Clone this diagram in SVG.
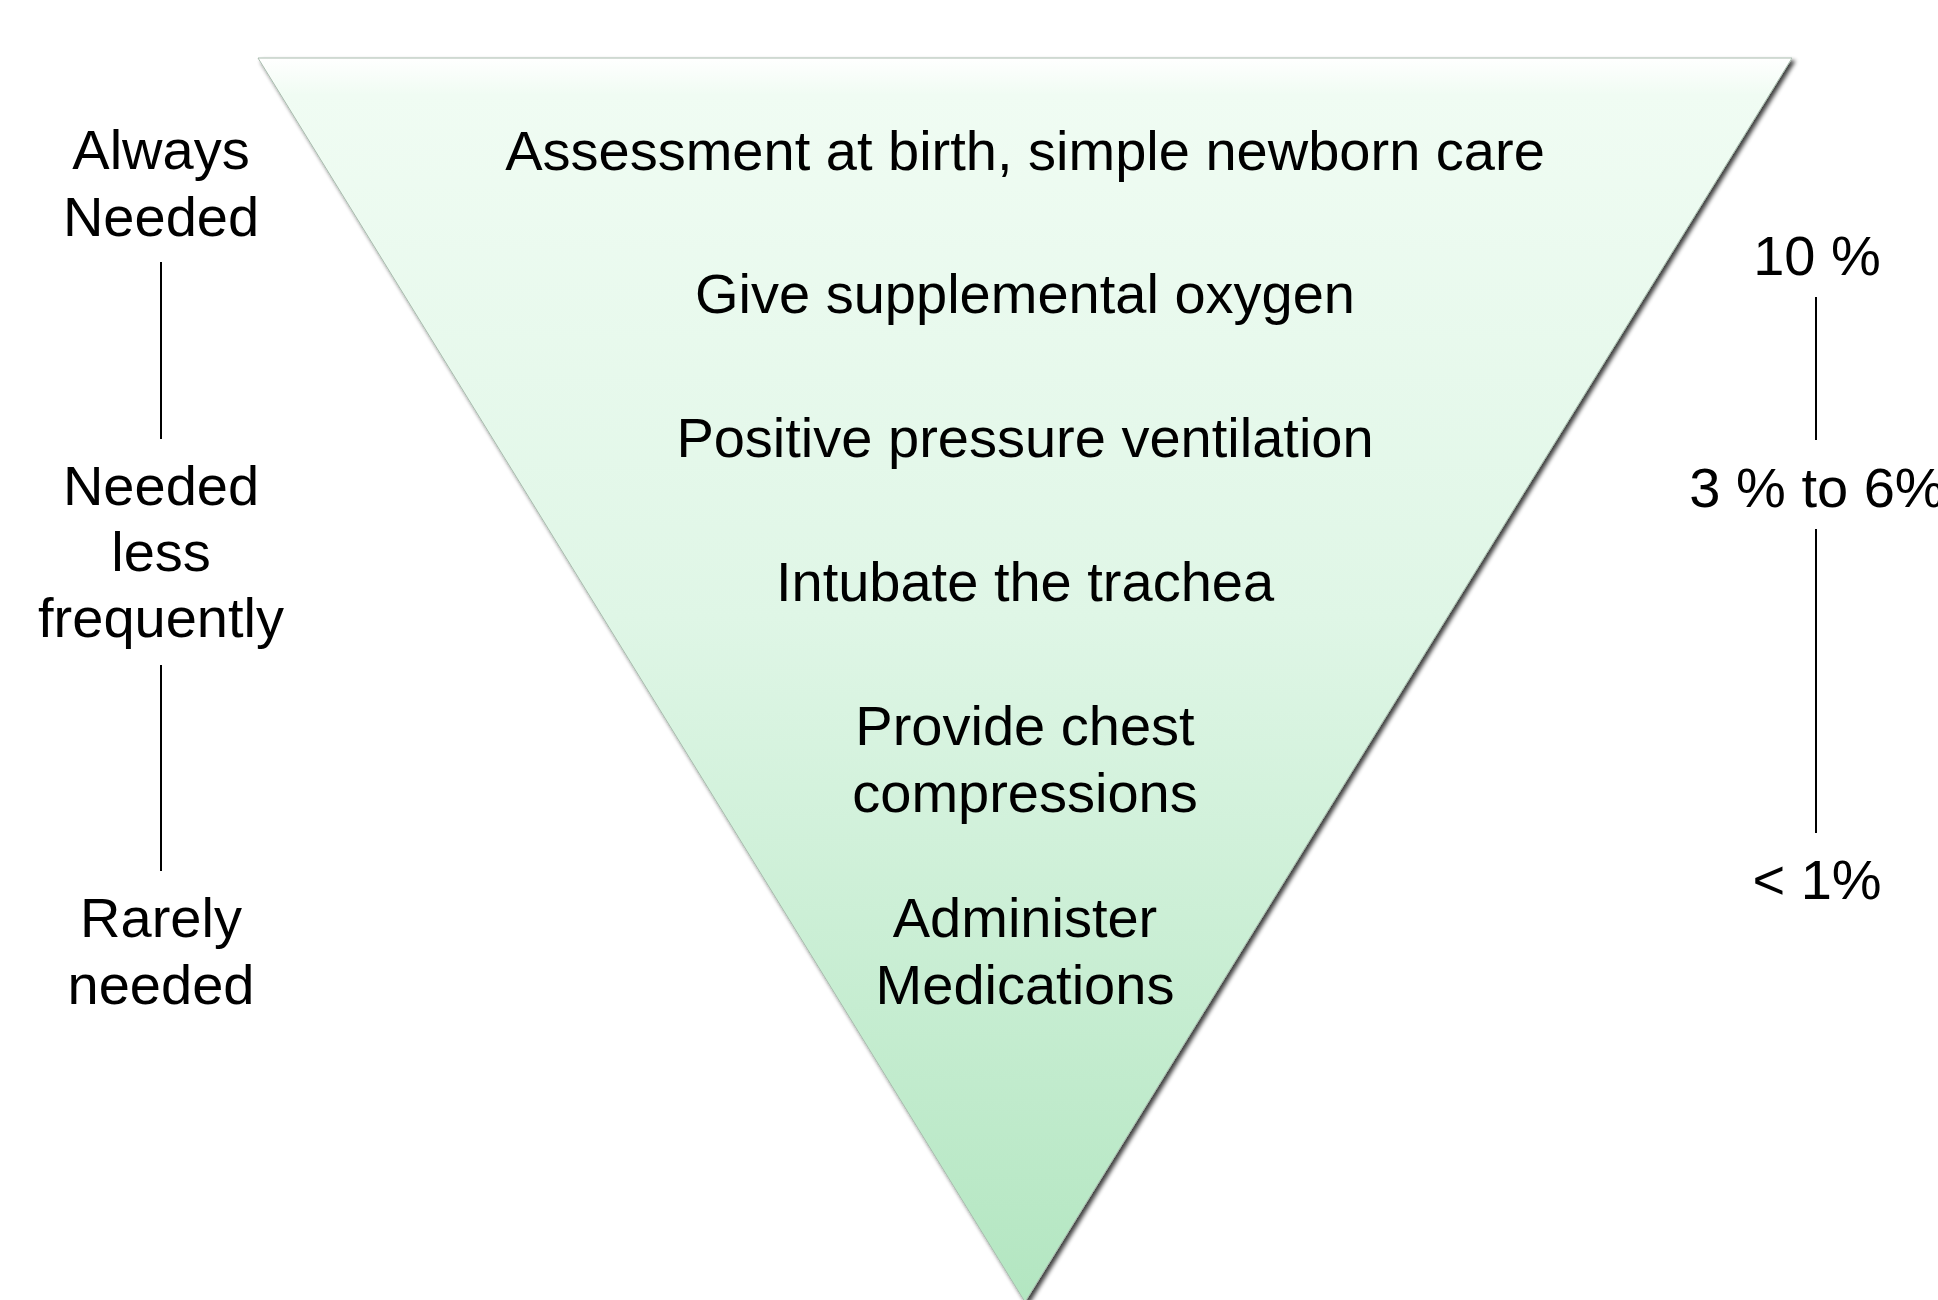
<svg xmlns="http://www.w3.org/2000/svg" width="1938" height="1300" viewBox="0 0 1938 1300">
  <defs>
    <linearGradient id="fillGrad" x1="0" y1="58" x2="0" y2="1300" gradientUnits="userSpaceOnUse">
      <stop offset="0" stop-color="#ffffff"/>
      <stop offset="0.03" stop-color="#f0fcf3"/>
      <stop offset="0.45" stop-color="#dff6e6"/>
      <stop offset="1" stop-color="#b3e6c1"/>
    </linearGradient>
    <filter id="shadow" x="-5%" y="-5%" width="110%" height="110%">
      <feGaussianBlur in="SourceAlpha" stdDeviation="2.2"/>
      <feOffset dx="3" dy="3" result="b"/>
      <feComponentTransfer><feFuncA type="linear" slope="0.75"/></feComponentTransfer>
      <feMerge><feMergeNode/><feMergeNode in="SourceGraphic"/></feMerge>
    </filter>
    <style>
      .t { font-family: "Liberation Sans", Arial, sans-serif; font-size: 56px; fill: #000; text-anchor: middle; }
      .conn { stroke: #000; stroke-width: 2; fill: none; }
    </style>
  </defs>
  <rect width="1938" height="1300" fill="#ffffff"/>

  <g id="triangle">
    <polygon points="258,58 1792,58 1025,1302" fill="url(#fillGrad)" filter="url(#shadow)" stroke="#a9bcae" stroke-width="1"/>
  </g>

  <g id="step1"><text class="t" x="1025" y="170">Assessment at birth, simple newborn care</text></g>
  <g id="step2"><text class="t" x="1025" y="313">Give supplemental oxygen</text></g>
  <g id="step3"><text class="t" x="1025" y="457">Positive pressure ventilation</text></g>
  <g id="step4"><text class="t" x="1025" y="601">Intubate the trachea</text></g>
  <g id="step5"><text class="t" x="1025" y="745">Provide chest</text><text class="t" x="1025" y="812">compressions</text></g>
  <g id="step6"><text class="t" x="1025" y="937">Administer</text><text class="t" x="1025" y="1004">Medications</text></g>

  <g id="left-always"><text class="t" x="161" y="169">Always</text><text class="t" x="161" y="236">Needed</text></g>
  <g id="left-less"><text class="t" x="161" y="505">Needed</text><text class="t" x="161" y="571">less</text><text class="t" x="161" y="637">frequently</text></g>
  <g id="left-rarely"><text class="t" x="161" y="937">Rarely</text><text class="t" x="161" y="1004">needed</text></g>

  <g id="right-10"><text class="t" x="1817" y="275">10 %</text></g>
  <g id="right-3to6"><text class="t" x="1817" y="507">3 % to 6%</text></g>
  <g id="right-1"><text class="t" x="1817" y="899">&lt; 1%</text></g>

  <g id="connectors">
    <line class="conn" x1="161" y1="262" x2="161" y2="439"/>
    <line class="conn" x1="161" y1="665" x2="161" y2="871"/>
    <line class="conn" x1="1816" y1="297" x2="1816" y2="440"/>
    <line class="conn" x1="1816" y1="529" x2="1816" y2="833"/>
  </g>
</svg>
